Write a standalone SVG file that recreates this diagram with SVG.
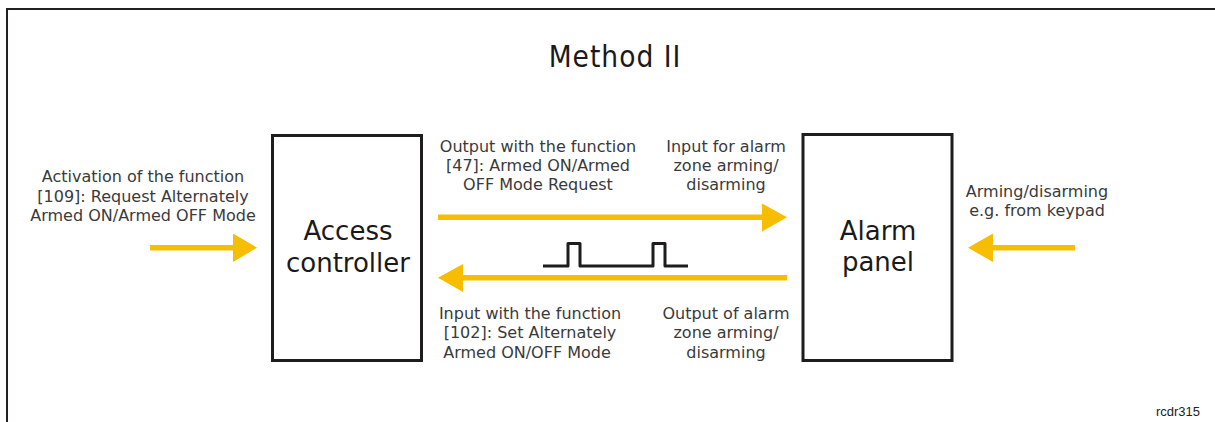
<svg xmlns="http://www.w3.org/2000/svg" width="1215" height="422" viewBox="0 0 1215 422">
<style>
.lbl{font-family:"DejaVu Sans",Verdana,sans-serif;font-size:16px;fill:#3a3a3a;text-anchor:middle}
.node{font-family:"DejaVu Sans",Verdana,sans-serif;font-size:26px;fill:#1a1a1a;text-anchor:middle}
.box{fill:#fff;stroke:#1e1c1c;stroke-width:3}
.arrow{fill:#f7bd00}
</style>
<rect width="1215" height="422" fill="#fff"/>
<path d="M7,422 V9 H1215" fill="none" stroke="#231f20" stroke-width="2"/>
<text x="615" y="67" font-family="'DejaVu Sans Condensed','DejaVu Sans',sans-serif" font-size="29.5" letter-spacing="1" fill="#1a1a1a" text-anchor="middle">Method II</text>
<g id="access-controller">
<rect class="box" x="272.5" y="135.5" width="149" height="225"/>
<text class="node" x="348" y="240">Access</text>
<text class="node" x="348" y="272">controller</text>
</g>
<g id="alarm-panel">
<rect class="box" x="803" y="134.5" width="149" height="226"/>
<text class="node" x="878" y="240">Alarm</text>
<text class="node" x="878" y="271">panel</text>
</g>
<g id="connectors">
<polygon class="arrow" points="150,245 233,245 233,233.5 257,247.7 233,262 233,250.5 150,250.5"/>
<polygon class="arrow" points="438,214.5 762,214.5 762,203.5 787,217.3 762,231.5 762,220 438,220"/>
<polygon class="arrow" points="787,275 463,275 463,264 438,277.7 463,292 463,280.5 787,280.5"/>
<polygon class="arrow" points="1075,245 993,245 993,233.5 968,247.7 993,262 993,250.5 1075,250.5"/>
<polyline points="543,266 568,266 568,243.5 580,243.5 580,266 653,266 653,243.5 665,243.5 665,266 688,266" fill="none" stroke="#1e1c1c" stroke-width="3" stroke-linejoin="round"/>
</g>
<g id="labels">
<text class="lbl" x="143" y="182">Activation of the function</text>
<text class="lbl" x="143" y="201.5">[109]: Request Alternately</text>
<text class="lbl" x="143" y="221">Armed ON/Armed OFF Mode</text>
<text class="lbl" x="538" y="152">Output with the function</text>
<text class="lbl" x="538" y="171">[47]: Armed ON/Armed</text>
<text class="lbl" x="538" y="190">OFF Mode Request</text>
<text class="lbl" x="726" y="152">Input for alarm</text>
<text class="lbl" x="726" y="171">zone arming/</text>
<text class="lbl" x="726" y="190">disarming</text>
<text class="lbl" x="530" y="319">Input with the function</text>
<text class="lbl" x="530" y="338">[102]: Set Alternately</text>
<text class="lbl" x="527" y="357.5">Armed ON/OFF Mode</text>
<text class="lbl" x="726" y="319">Output of alarm</text>
<text class="lbl" x="726" y="338">zone arming/</text>
<text class="lbl" x="726" y="357.5">disarming</text>
<text class="lbl" x="1037" y="197">Arming/disarming</text>
<text class="lbl" x="1037" y="216">e.g. from keypad</text>
<text x="1200" y="416" font-family="'Liberation Sans',Arial,sans-serif" font-size="13" fill="#222" text-anchor="end">rcdr315</text>
</g>
</svg>
